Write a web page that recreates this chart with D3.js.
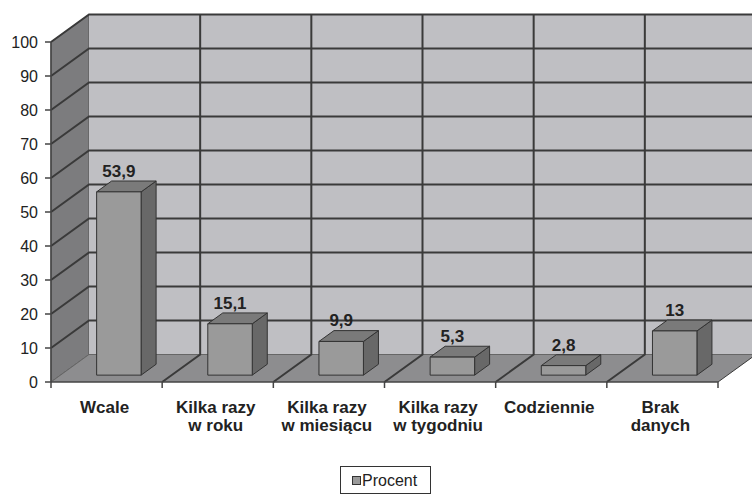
<!DOCTYPE html>
<html>
<head>
<meta charset="utf-8">
<style>
	body { margin: 0; background: #fff; }
	svg { display: block; font-family: "Liberation Sans", Arial, sans-serif; }
</style>
</head>
<body>
<script src="https://cdn.jsdelivr.net/npm/d3@7/dist/d3.min.js"></script>
<script>
// data
var categories = ["Wcale", "Kilka razy\nw roku", "Kilka razy\nw miesiącu", "Kilka razy\nw tygodniu", "Codziennie", "Brak\ndanych"];
var values = [53.9, 15.1, 9.9, 5.3, 2.8, 13];
var valueLabels = ["53,9", "15,1", "9,9", "5,3", "2,8", "13"];
var yTicks = [0, 10, 20, 30, 40, 50, 60, 70, 80, 90, 100];
var seriesName = "Procent";

var W = 752, H = 495;
var depthX = 38, depthY = -27.5;   // 3d depth of the floor
var barF0 = 0.25, barF1 = 0.645;   // bar front/back as share of depth

var svg = d3.select("body").append("svg")
	.attr("width", W)
	.attr("height", H);

var x = d3.scaleBand().domain(d3.range(categories.length)).range([51, 718]).padding(0);
var y = d3.scaleLinear().domain([0, 100]).range([382, 42]);

function pt(px, py, f) { return [px + depthX * f, py + depthY * f]; }
function poly(pts) { return pts.map(function(p){ return p.join(","); }).join(" "); }

var x0 = x.range()[0], x1 = x.range()[1];

// walls + floor
svg.append("polygon")
	.attr("points", poly([pt(x0, y(0), 0), pt(x0, y(0), 1), pt(x0, y(100), 1), pt(x0, y(100), 0)]))
	.attr("fill", "#7c7c7e").attr("stroke", "#555").attr("stroke-width", 1);
svg.append("polygon")
	.attr("points", poly([pt(x0, y(0), 1), pt(W + 10, y(0), 1), pt(W + 10, y(100), 1), pt(x0, y(100), 1)]))
	.attr("fill", "#bfbfc3");
svg.append("polygon")
	.attr("points", poly([pt(x0, y(0), 0), pt(x1, y(0), 0), pt(x1, y(0), 1), pt(x0, y(0), 1)]))
	.attr("fill", "#8d8d8f");

// gridlines
var grid = svg.append("g").attr("stroke", "#3a3a3a").attr("stroke-width", 2).attr("fill", "none");
yTicks.forEach(function(v) {
	var a = pt(x0, y(v), 0), b = pt(x0, y(v), 1), c = pt(W + 10, y(v), 1);
	grid.append("polyline").attr("points", poly([a, b, c]))
		.attr("stroke-width", v === 0 ? 1 : 2)
		.attr("stroke", v === 0 ? "#666" : "#3a3a3a");
});
d3.range(categories.length + 1).forEach(function(i) {
	var bx = i < categories.length ? x(i) : x1;
	if (i === 0) return;
	var a = pt(bx, y(0), 0), b = pt(bx, y(0), 1), c = pt(bx, y(100), 1);
	grid.append("polyline").attr("points", poly([a, b, c]))
		.attr("stroke-width", i === categories.length ? 1 : 2);
});

// axes
svg.append("line").attr("x1", x0).attr("x2", x0).attr("y1", y(100)).attr("y2", y(0))
	.attr("stroke", "#444").attr("stroke-width", 1.5);
svg.append("line").attr("x1", x0).attr("x2", x1).attr("y1", y(0)).attr("y2", y(0))
	.attr("stroke", "#444").attr("stroke-width", 1.5);

svg.selectAll(".ytick").data(yTicks).enter().append("line")
	.attr("x1", x0 - 6).attr("x2", x0)
	.attr("y1", function(d){ return y(d); }).attr("y2", function(d){ return y(d); })
	.attr("stroke", "#444").attr("stroke-width", 1.5);
svg.selectAll(".ylab").data(yTicks).enter().append("text")
	.attr("x", x0 - 13)
	.attr("y", function(d){ return y(d) + 6; })
	.attr("text-anchor", "end")
	.attr("font-size", 16)
	.attr("fill", "#222")
	.text(function(d){ return d; });

svg.selectAll(".xtick").data(d3.range(categories.length + 1)).enter().append("line")
	.attr("x1", function(i){ return i < categories.length ? x(i) : x1; })
	.attr("x2", function(i){ return i < categories.length ? x(i) : x1; })
	.attr("y1", y(0)).attr("y2", y(0) + 6)
	.attr("stroke", "#444").attr("stroke-width", 1.5);

svg.selectAll(".xlab").data(categories).enter().append("text")
	.attr("text-anchor", "middle")
	.attr("font-size", 17)
	.attr("font-weight", "bold")
	.attr("fill", "#222")
	.each(function(d, i) {
		var t = d3.select(this);
		d.split("\n").forEach(function(line, k) {
			t.append("tspan")
				.attr("x", x(i) + x.bandwidth() / 2 - 2)
				.attr("y", 413 + k * 18)
				.text(line);
		});
	});

// bars
var bars = svg.selectAll(".bar").data(values).enter().append("g")
	.attr("stroke", "#333").attr("stroke-width", 1).attr("stroke-linejoin", "round");
bars.each(function(v, i) {
	var g = d3.select(this);
	var bx0 = x(i) + x.bandwidth() * 0.325 + depthX * barF0, bx1 = bx0 + x.bandwidth() * 0.4;
	var base = pt(0, y(0), barF0)[1];
	var top = base - (y(0) - y(v));
	var df = barF1 - barF0;
	function bp(px, py) { return [px + depthX * df, py + depthY * df]; }
	// side face
	g.append("polygon").attr("points", poly([[bx1, base], bp(bx1, base), bp(bx1, top), [bx1, top]]))
		.attr("fill", "#686868");
	// top face
	g.append("polygon").attr("points", poly([[bx0, top], [bx1, top], bp(bx1, top), bp(bx0, top)]))
		.attr("fill", "#7a7a7a");
	// front face
	g.append("rect").attr("x", bx0).attr("y", top).attr("width", bx1 - bx0).attr("height", base - top)
		.attr("fill", "#9a9a9a");
	svg.append("text")
		.attr("x", (bx0 + bx1) / 2)
		.attr("y", top - 15)
		.attr("text-anchor", "middle")
		.attr("font-size", 17)
		.attr("font-weight", "bold")
		.attr("fill", "#222")
		.text(valueLabels[i]);
});

// legend
var lg = svg.append("g");
lg.append("rect").attr("x", 340.5).attr("y", 466.5).attr("width", 90).attr("height", 27)
	.attr("fill", "#fff").attr("stroke", "#333");
lg.append("rect").attr("x", 352.5).attr("y", 476.5).attr("width", 8).attr("height", 8)
	.attr("fill", "#9a9a9a").attr("stroke", "#333");
lg.append("text").attr("x", 362).attr("y", 486).attr("font-size", 16).attr("fill", "#222").text(seriesName);
</script>
</body>
</html>
